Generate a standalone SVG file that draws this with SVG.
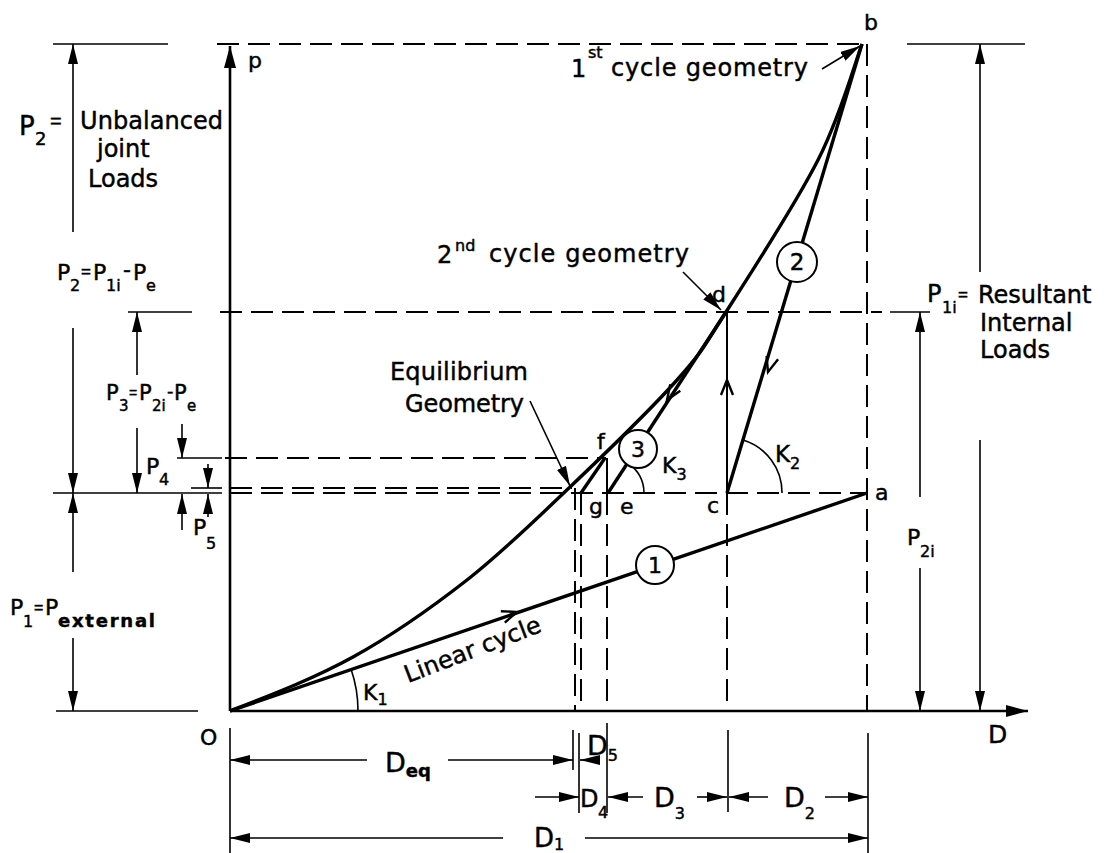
<svg xmlns="http://www.w3.org/2000/svg" width="1109" height="853" viewBox="0 0 1109 853">
<style>
.t{font-family:"DejaVu Sans","Liberation Sans",sans-serif;font-size:24px;fill:#000;stroke:#000;stroke-width:0.45}
.s{font-size:16px}
.eq{font-family:"Liberation Sans",sans-serif}
.thin{stroke:#000;stroke-width:1.6;fill:none}
.dim{stroke:#000;stroke-width:1.6;fill:none;marker-end:url(#ah)}
.dims{stroke:#000;stroke-width:1.6;fill:none;marker-start:url(#ah)}
.dash{stroke:#000;stroke-width:2;fill:none;stroke-dasharray:22 9}
.thick{stroke:#000;stroke-width:3.4;fill:none}
.axis{stroke:#000;stroke-width:2.6;fill:none}
.circ{fill:#fff;stroke:#000;stroke-width:2}
</style>
<defs>
<marker id="ah" viewBox="0 0 20 10" refX="20" refY="5" markerWidth="20" markerHeight="10" markerUnits="userSpaceOnUse" orient="auto-start-reverse"><path d="M0,0 L20,5 L0,10 z" fill="#000"/></marker>
<marker id="ax" viewBox="0 0 22 12" refX="22" refY="6" markerWidth="22" markerHeight="12" markerUnits="userSpaceOnUse" orient="auto"><path d="M0,0 L22,6 L0,12 z" fill="#000"/></marker>
<path id="v" d="M-15,-6 L0,0 L-15,6" fill="none" stroke="#000" stroke-width="2.4"/>
</defs>

<g id="axes">
<line class="axis" x1="230" y1="711" x2="230" y2="46" marker-end="url(#ax)"/>
<line class="axis" x1="230" y1="711" x2="1028" y2="711" marker-end="url(#ax)"/>
</g>

<g id="reference-lines">
<line class="dash" x1="217" y1="44" x2="862" y2="44"/>
<line class="dash" x1="220" y1="312" x2="882" y2="312"/>
<line class="dash" x1="225" y1="458" x2="606" y2="458"/>
<line class="dash" x1="230" y1="488" x2="572" y2="488"/>
<line class="dash" x1="230" y1="493" x2="867" y2="493"/>
<line class="dash" x1="867" y1="44" x2="867" y2="711"/>
<line class="dash" x1="727" y1="493" x2="727" y2="711"/>
<line class="dash" x1="607" y1="493" x2="607" y2="711"/>
<line class="dash" x1="581" y1="493" x2="581" y2="711"/>
<line class="dash" x1="575" y1="488" x2="575" y2="711"/>
</g>

<g id="connectors">
<path class="thick" d="M230,711 C271,695 313.5,678.8 353,657 C392.5,635.2 430.8,608.3 467,580 C503.2,551.7 535,520.3 570,487 C605,453.7 651,409.2 677,380 C703,350.8 702.5,348.7 726,312 C749.5,275.3 795.3,204.7 818,160 C840.7,115.3 854.7,63.3 862,44"/>
<line class="thick" x1="230" y1="711" x2="867" y2="493"/>
<line class="thick" x1="862" y1="44" x2="727" y2="493"/>
<line class="thick" x1="726" y1="312" x2="608" y2="493"/>
<line class="thin" x1="727" y1="493" x2="727" y2="312" style="stroke-width:2"/>
<line class="thin" x1="607" y1="458" x2="607" y2="493" style="stroke-width:2"/>
<line class="thick" x1="605" y1="458" x2="581" y2="493"/>
<use href="#v" transform="translate(517,612) rotate(-19)"/>
<use href="#v" transform="translate(768,372) rotate(106.75)"/>
<use href="#v" transform="translate(667,400) rotate(123.6)"/>
<use href="#v" transform="translate(727,380) rotate(-90)"/>
<path class="thin" d="M358,711 A128,128 0 0 0 351,669"/>
<path class="thin" d="M782,493 A55,55 0 0 0 743,440"/>
<path class="thin" d="M644,493 A36,36 0 0 0 628,463"/>
<line class="dim" x1="822" y1="69" x2="860" y2="46"/>
<line class="dim" x1="683" y1="272" x2="721" y2="310"/>
<line class="dim" x1="530" y1="401" x2="570" y2="486"/>
</g>

<g id="dimensions">
<line class="thin" x1="53" y1="44" x2="168" y2="44"/>
<line class="thin" x1="907" y1="44" x2="1025" y2="44"/>
<line class="thin" x1="53" y1="493" x2="222" y2="493"/>
<line class="thin" x1="56" y1="711" x2="198" y2="711"/>
<line class="thin" x1="128" y1="312" x2="192" y2="312"/>
<line class="thin" x1="177" y1="458" x2="222" y2="458"/>
<line class="thin" x1="191" y1="488" x2="222" y2="488"/>
<line class="thin" x1="890" y1="312" x2="930" y2="312"/>
<line class="dims" x1="73" y1="44" x2="73" y2="232"/>
<line class="dim" x1="73" y1="328" x2="73" y2="493"/>
<line class="dims" x1="73" y1="493" x2="73" y2="572"/>
<line class="dim" x1="73" y1="638" x2="73" y2="711"/>
<line class="dims" x1="137" y1="312" x2="137" y2="375"/>
<line class="dim" x1="137" y1="428" x2="137" y2="493"/>
<line class="dim" x1="182" y1="424" x2="182" y2="458"/>
<line class="dim" x1="208" y1="464" x2="208" y2="488"/>
<line class="dim" x1="182" y1="530" x2="182" y2="494"/>
<line class="dim" x1="208" y1="517" x2="208" y2="494"/>
<line class="dims" x1="920" y1="312" x2="920" y2="497"/>
<line class="dim" x1="920" y1="568" x2="920" y2="711"/>
<line class="dims" x1="980" y1="44" x2="980" y2="272"/>
<line class="dim" x1="980" y1="440" x2="980" y2="711"/>
<line class="thin" x1="230" y1="728" x2="230" y2="853"/>
<line class="thin" x1="573" y1="730" x2="573" y2="770"/>
<line class="thin" x1="579" y1="733" x2="579" y2="813"/>
<line class="thin" x1="607" y1="723" x2="607" y2="813"/>
<line class="thin" x1="728" y1="730" x2="728" y2="812"/>
<line class="thin" x1="868" y1="733" x2="868" y2="853"/>
<line class="dims" x1="230" y1="760" x2="367" y2="760"/>
<line class="dim" x1="448" y1="760" x2="573" y2="760"/>
<line class="dim" x1="600" y1="760" x2="580" y2="760"/>
<line class="dim" x1="535" y1="797" x2="579" y2="797"/>
<line class="dim" x1="643" y1="797" x2="608" y2="797"/>
<line class="dim" x1="697" y1="797" x2="727" y2="797"/>
<line class="dim" x1="768" y1="797" x2="729" y2="797"/>
<line class="dim" x1="825" y1="797" x2="868" y2="797"/>
<line class="dims" x1="230" y1="838" x2="503" y2="838"/>
<line class="dim" x1="585" y1="838" x2="868" y2="838"/>
</g>

<g id="node-1"><circle class="circ" cx="655" cy="565" r="19"/><text class="t" x="655" y="573" text-anchor="middle" style="font-size:22px">1</text></g>
<g id="node-2"><circle class="circ" cx="797" cy="262" r="20"/><text class="t" x="797" y="270" text-anchor="middle" style="font-size:23px">2</text></g>
<g id="node-3"><circle class="circ" cx="638" cy="449" r="19"/><text class="t" x="638" y="457" text-anchor="middle" style="font-size:22px">3</text></g>

<g id="labels">
<text class="t" x="248" y="68" style="font-size:22px">p</text>
<text class="t" x="864" y="30" style="font-size:22px">b</text>
<text class="t" x="712" y="302" style="font-size:22px">d</text>
<text class="t" x="597" y="449" style="font-size:22px">f</text>
<text class="t" x="589" y="514" style="font-size:22px">g</text>
<text class="t" x="620" y="514" style="font-size:22px">e</text>
<text class="t" x="707" y="513" style="font-size:22px">c</text>
<text class="t" x="875" y="500" style="font-size:22px">a</text>
<text class="t" x="200" y="745" style="font-size:22px">O</text>
<text class="t" x="988" y="743" style="font-size:25px">D</text>
<text class="t" x="571" y="77">1<tspan x="588" y="58" style="font-size:16px">st</tspan><tspan x="611" y="76" textLength="197">cycle geometry</tspan></text>
<text class="t" x="437" y="263">2<tspan x="455" y="251" style="font-size:16px">nd</tspan><tspan x="489" y="262" textLength="200">cycle geometry</tspan></text>
<text class="t" x="390" y="380" textLength="138">Equilibrium</text>
<text class="t" x="405" y="412" textLength="119">Geometry</text>
<text class="t" x="408" y="683" transform="rotate(-21 408 683)">Linear cycle</text>
<text class="t" x="363" y="700" style="font-size:22px">K<tspan class="s" dy="5">1</tspan></text>
<text class="t" x="775" y="462" style="font-size:23px">K<tspan class="s" dy="7">2</tspan></text>
<text class="t" x="662" y="473" style="font-size:22px">K<tspan class="s" dy="7">3</tspan></text>

<text class="t" x="19" y="135" style="font-size:26px">P<tspan x="35" y="145" style="font-size:18px">2</tspan><tspan class="eq" x="50" y="128" style="font-size:20px">=</tspan></text>
<text class="t" x="80" y="129" textLength="143">Unbalanced</text>
<text class="t" x="97" y="157">joint</text>
<text class="t" x="88" y="187">Loads</text>

<text class="t" x="57" y="280" style="font-size:22px">P<tspan class="s" x="70" y="291">2</tspan><tspan class="eq" x="81" y="277" style="font-size:17px">=</tspan><tspan x="93" y="280">P</tspan><tspan class="s" x="106" y="291">1i</tspan><tspan x="123" y="277">-</tspan><tspan x="133" y="280">P</tspan><tspan class="s" x="146" y="291">e</tspan></text>

<text class="t" x="106" y="400" style="font-size:21px">P<tspan x="119" y="411" style="font-size:15px">3</tspan><tspan class="eq" x="129" y="398" style="font-size:14px">=</tspan><tspan x="139" y="400">P</tspan><tspan x="152" y="411" style="font-size:15px">2i</tspan><tspan x="167" y="397" style="font-size:18px">-</tspan><tspan x="174" y="400">P</tspan><tspan x="187" y="411" style="font-size:15px">e</tspan></text>

<text class="t" x="146" y="474" style="font-size:22px">P<tspan class="s" x="159" y="485">4</tspan></text>
<text class="t" x="193" y="535" style="font-size:22px">P<tspan class="s" x="206" y="549">5</tspan></text>

<text class="t" x="10" y="615" style="font-size:22px">P<tspan class="s" x="23" y="627">1</tspan><tspan class="eq" x="34" y="613" style="font-size:16px">=</tspan><tspan x="45" y="615">P</tspan><tspan x="58" y="627" style="font-size:18px;font-weight:bold" textLength="97">external</tspan></text>

<text class="t" x="927" y="302" style="font-size:24px">P<tspan class="s" x="942" y="313">1i</tspan><tspan class="eq" x="958" y="300" style="font-size:17px">=</tspan></text>
<text class="t" x="978" y="303">Resultant</text>
<text class="t" x="980" y="331">Internal</text>
<text class="t" x="980" y="358">Loads</text>

<text class="t" x="907" y="545" style="font-size:22px">P<tspan class="s" x="920" y="557">2i</tspan></text>

<text class="t" x="385" y="772" style="font-size:27px">D<tspan class="s" style="font-weight:bold;font-size:18px" dy="5">eq</tspan></text>
<text class="t" x="587" y="755" style="font-size:27px">D<tspan class="s" dy="6">5</tspan></text>
<text class="t" x="580" y="807" style="font-size:24px">D<tspan class="s" x="598" y="818">4</tspan></text>
<text class="t" x="654" y="807" style="font-size:27px">D<tspan class="s" dy="12">3</tspan></text>
<text class="t" x="784" y="807" style="font-size:27px">D<tspan class="s" dy="12">2</tspan></text>
<text class="t" x="534" y="847" style="font-size:26px">D<tspan class="s" dy="3">1</tspan></text>
</g>
</svg>
